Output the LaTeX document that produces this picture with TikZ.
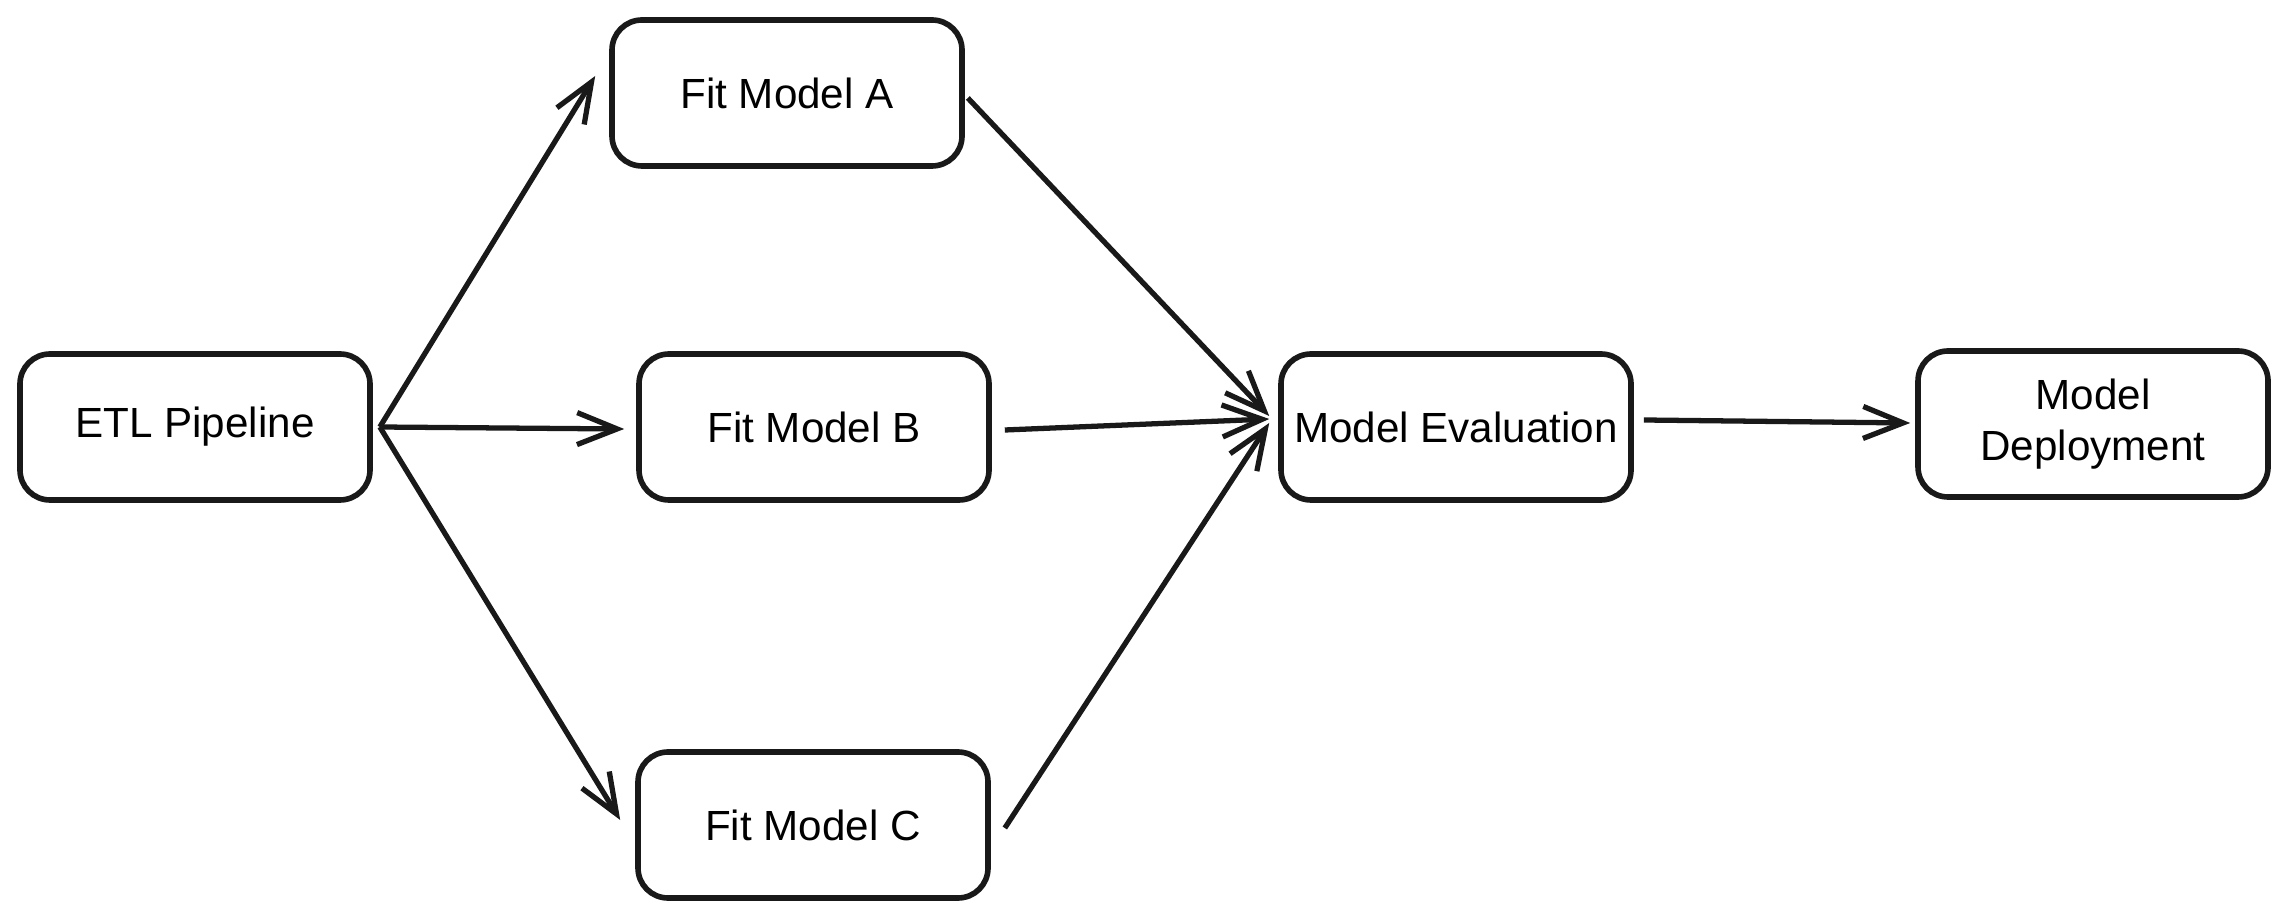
\documentclass[tikz,border=0pt]{standalone}
\usepackage{fontspec}
\setmainfont{Liberation Sans}
\usetikzlibrary{calc,arrows.meta}

\begin{document}
\begin{tikzpicture}[font=\fontsize{12}{14.5}\selectfont,
  box/.style={draw=black!90, line width=1.6pt, rounded corners=0.3cm,
    minimum width=3.5cm, minimum height=1.46cm, align=center},
  flow/.style={draw=black!90, line width=1.5pt,
    -{Straight Barb[length=0.4cm,width=0.32cm,line width=1.5pt]}}]
  \useasboundingbox (0,0) rectangle (22.87,-9.19);
  \node[box] (etl) at (1.95,-4.27) {ETL Pipeline};
  \node[box] (fitA) at (7.87,-0.93) {Fit Model A};
  \node[box] (fitB) at (8.14,-4.27) {Fit Model B};
  \node[box] (fitC) at (8.13,-8.25) {Fit Model C};
  \node[box] (eval) at (14.56,-4.27) {Model Evaluation};
  \node[box] (deploy) at (20.93,-4.24) {Model\\Deployment};
  % from the pipeline to the three fits
  \draw[flow] ($(etl.east)+(0.07,0)$) -- ($(fitA.west)+(-0.14,0.17)$);
  \draw[flow] ($(etl.east)+(0.07,0)$) -- ($(fitB.west)+(-0.12,-0.02)$);
  \draw[flow] ($(etl.east)+(0.07,0)$) -- ($(fitC.west)+(-0.15,0.05)$);
  % fits into evaluation
  \draw[flow] ($(fitA.east)+(0.03,-0.05)$) -- ($(eval.west)+(-0.09,0.11)$);
  \draw[flow] ($(fitB.east)+(0.13,-0.03)$) -- ($(eval.west)+(-0.09,0.08)$);
  \draw[flow] ($(fitC.east)+(0.14,-0.03)$) -- ($(eval.west)+(-0.09,0.04)$);
  \draw[flow] ($(eval.east)+(0.10,0.07)$) -- ($(deploy.west)+(-0.05,0.01)$);
\end{tikzpicture}
\end{document}
